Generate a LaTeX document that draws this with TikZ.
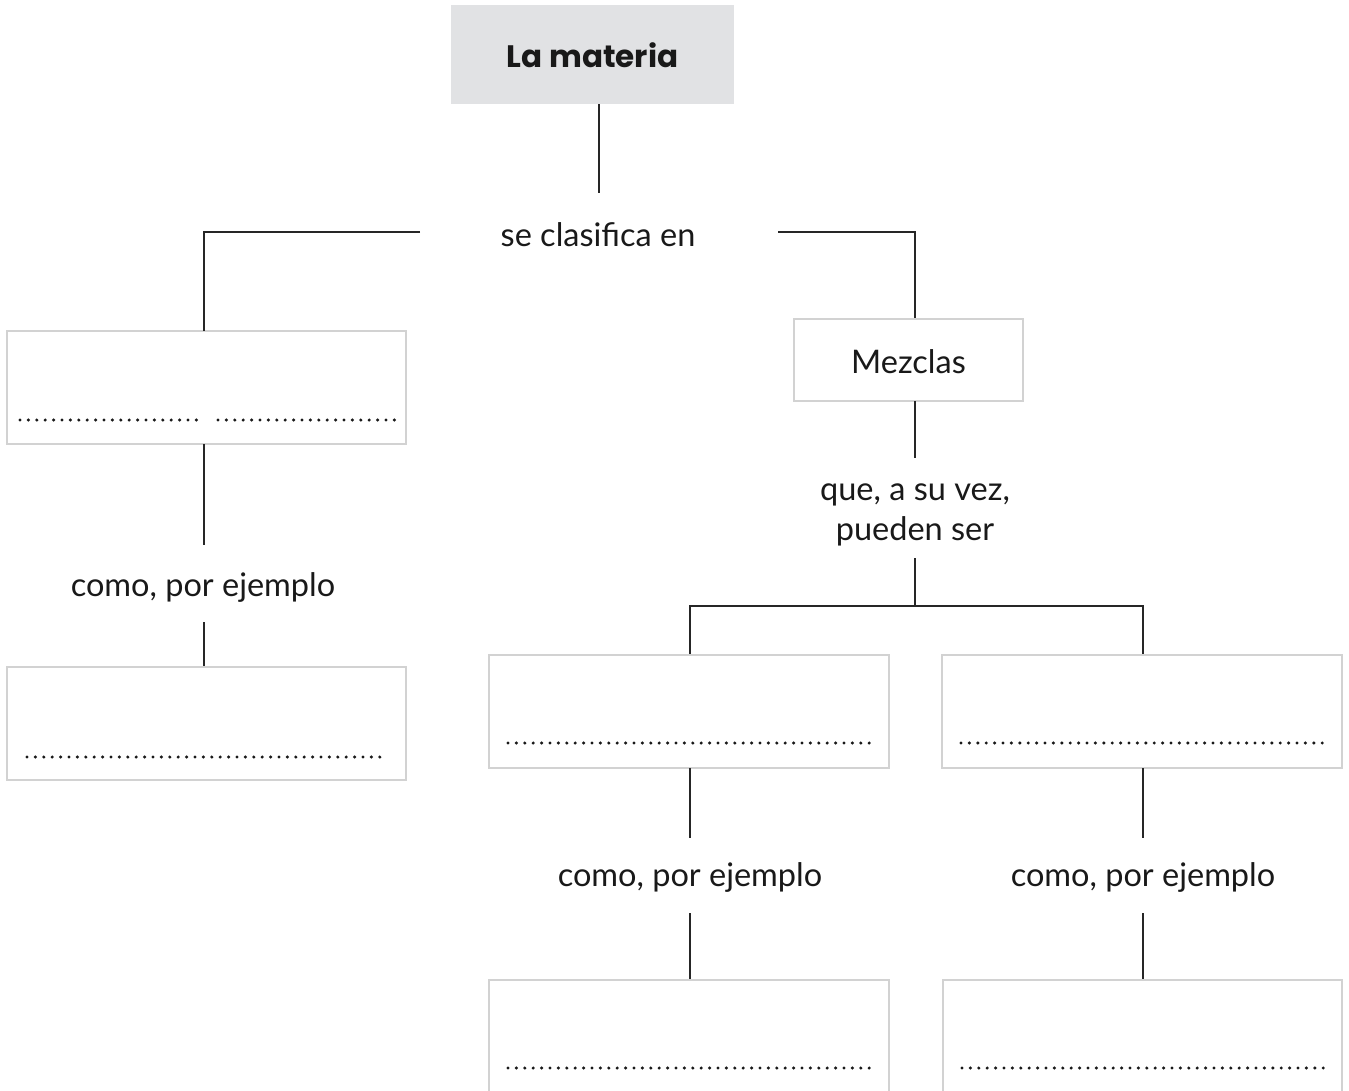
\documentclass[tikz,border=0pt]{standalone}
\usepackage{fontspec}
\setmainfont{Lato}
\newfontfamily\titlefont{Poppins}
\definecolor{boxgray}{HTML}{E1E2E4}
\definecolor{edgegray}{HTML}{D2D2D2}
\begin{document}
\begin{tikzpicture}[x=1pt,y=-1pt,
  conn/.style={line width=1.3pt,draw=black!85},
  wbox/.style={draw=edgegray,line width=2pt,fill=white},
  lbl/.style={font=\fontsize{32.5}{38}\selectfont,text=black!90,align=center,inner sep=0pt},
  dots/.style={line width=3.4pt,line cap=round,dash pattern=on 0pt off 8.4pt,draw=black!90}]
\useasboundingbox (0,0) rectangle (1349,1090);
\clip (0,0) rectangle (1349,1090);
% title
\fill[boxgray] (451,5) rectangle (734,104);
\node[lbl,font=\fontsize{31}{36}\titlefont\bfseries] (title) at (592.5,55) {La materia};
\coordinate (t1) at (599,104);
\coordinate (t2) at (599,193);
\draw[conn] (t1) -- (t2);
\node[lbl] (clas) at (598,235) {se clasifica en};
\coordinate (cl) at (420,232);
\coordinate (cr) at (778,232);
% left branch
\draw[wbox] (7,331) rectangle (406,444);
\draw[conn] (cl) -- (204,232) -- (204,331);
\draw[dots] (20,420) -- (198,420);
\draw[dots] (218,420) -- (396,420);
\draw[conn] (204,444) -- (204,545);
\node[lbl] (ej1) at (203,587) {como, por ejemplo};
\draw[conn] (204,622) -- (204,667);
\draw[wbox] (7,667) rectangle (406,780);
\draw[dots] (27,757) -- (388,757);
% right branch
\draw[conn] (cr) -- (915,232) -- (915,319);
\draw[wbox] (794,319) rectangle (1023,401);
\node[lbl] (mez) at (908.5,362) {Mezclas};
\draw[conn] (915,401) -- (915,458);
\node[lbl,font=\fontsize{32.5}{40}\selectfont] (que) at (915,515) {que, a su vez,\\pueden ser};
\draw[conn] (915,558) -- (915,606);
\draw[conn] (690,655) -- (690,606) -- (1143,606) -- (1143,655);
\draw[wbox] (489,655) rectangle (889,768);
\draw[wbox] (942,655) rectangle (1342,768);
\draw[dots] (508,743) -- (870,743);
\draw[dots] (961,743) -- (1324,743);
\draw[conn] (690,768) -- (690,838);
\draw[conn] (1143,768) -- (1143,838);
\node[lbl] (ej2) at (690,877) {como, por ejemplo};
\node[lbl] (ej3) at (1143,877) {como, por ejemplo};
\draw[conn] (690,913) -- (690,980);
\draw[conn] (1143,913) -- (1143,980);
\draw[wbox] (489,980) rectangle (889,1110);
\draw[wbox] (943,980) rectangle (1342,1110);
\draw[dots] (508,1068) -- (870,1068);
\draw[dots] (962,1068) -- (1324,1068);
\end{tikzpicture}
\end{document}
